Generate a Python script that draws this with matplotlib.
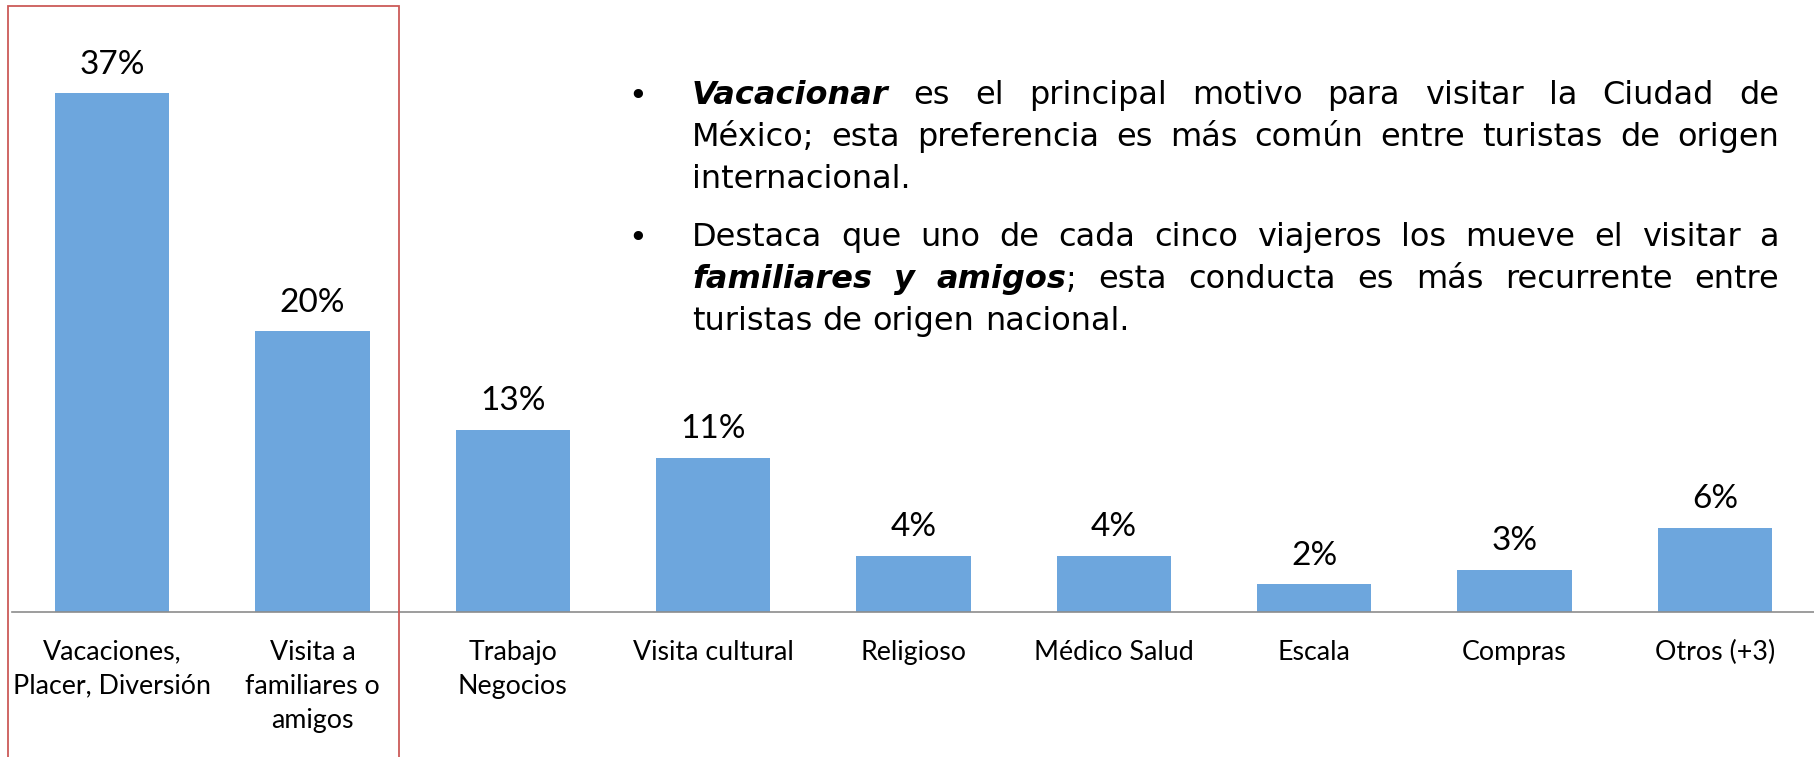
import matplotlib
matplotlib.use("Agg")
import matplotlib.pyplot as plt
from matplotlib.patches import Rectangle

plt.rcParams['font.family'] = ['Lato', 'DejaVu Sans']

# motivos de viaje a la CDMX, % de turistas
categorias = ["Vacaciones,\nPlacer, Diversión", "Visita a\nfamiliares o\namigos",
              "Trabajo\nNegocios", "Visita cultural", "Religioso", "Médico Salud",
              "Escala", "Compras", "Otros (+3)"]
porcentajes = [37, 20, 13, 11, 4, 4, 2, 3, 6]

# texto de las viñetas, cortado por renglón como en la lámina; *...* = cursiva
vineta_1 = ["*Vacacionar* es el principal motivo para visitar la Ciudad de",
            "México; esta preferencia es más común entre turistas de origen",
            "internacional."]
vineta_2 = ["Destaca que uno de cada cinco viajeros los mueve el visitar a",
            "*familiares y amigos*; esta conducta es más recurrente entre",
            "turistas de origen nacional."]

W, H = 1815, 757
fig = plt.figure(figsize=(W / 100, H / 100), dpi=100)
ax = fig.add_axes([12 / W, (H - 612) / H, (W - 12) / W, 561 / H])

x = range(len(porcentajes))
ax.bar(x, porcentajes, width=0.57, color='#6DA6DD')
for xi, v in zip(x, porcentajes):
    ax.annotate(f"{v}%", (xi, v), xytext=(0, 14), textcoords='offset points',
                ha='center', va='baseline', fontsize=24)

ax.set_xlim(-0.5, 8.5)
ax.set_ylim(0, 40)
ax.set_yticks([])
ax.set_xticks(list(x))
ax.set_xticklabels(categorias, fontsize=19.3, linespacing=1.45)
ax.tick_params(axis='x', length=0, pad=20)
for s in ['left', 'right', 'top']:
    ax.spines[s].set_visible(False)
ax.spines['bottom'].set_color('#8C8C8C')
ax.spines['bottom'].set_linewidth(1.2)

# recuadro rojo alrededor de las dos primeras barras
fig.patches.append(Rectangle((8 / W, -0.05), (399 - 8) / W, 1 - 6 / H + 0.05,
                             transform=fig.transFigure, fill=False,
                             edgecolor='#CC5A58', lw=1.3))


def parse(line):
    words = [[]]
    for k, seg in enumerate(line.split('*')):
        for j, p in enumerate(seg.split(' ')):
            if j > 0:
                words.append([])
            if p:
                words[-1].append((p, k % 2 == 1))
    return [w for w in words if w]


renderer = fig.canvas.get_renderer()
fs_txt = 23
fam_txt = ['DejaVu Sans']


def make_text(s, italic, px, py):
    kw = dict(fontsize=fs_txt, va='baseline', ha='left', family=fam_txt)
    if italic:
        kw.update(fontstyle='italic', fontweight='bold')
    return fig.text(px / W, 1 - py / H, s, **kw)


def width(t):
    return t.get_window_extent(renderer).width


probe1 = make_text("a a", False, 0, 0)
probe2 = make_text("aa", False, 0, 0)
space = width(probe1) - width(probe2)
probe1.remove()
probe2.remove()

x0, x1 = 692, 1779


def draw_paragraph(lines, y0, step=42):
    fig.text(638 / W, 1 - (y0 + 1) / H, "•", fontsize=fs_txt, ha='center',
             va='baseline', family=fam_txt)
    for i, line in enumerate(lines):
        py = y0 + i * step
        words = []
        for w in parse(line):
            pieces = [make_text(s, it, 0, py) for s, it in w]
            words.append((pieces, sum(width(p) for p in pieces)))
        total = sum(wd for _, wd in words)
        last = i == len(lines) - 1
        gap = space if last or len(words) < 2 else (x1 - x0 - total) / (len(words) - 1)
        px = x0
        for pieces, wd in words:
            cx = px
            for p in pieces:
                p.set_position((cx / W, 1 - py / H))
                cx += width(p)
            px += wd + gap


draw_paragraph(vineta_1, 104)
draw_paragraph(vineta_2, 246)

fig.savefig("out.png", dpi=100)
